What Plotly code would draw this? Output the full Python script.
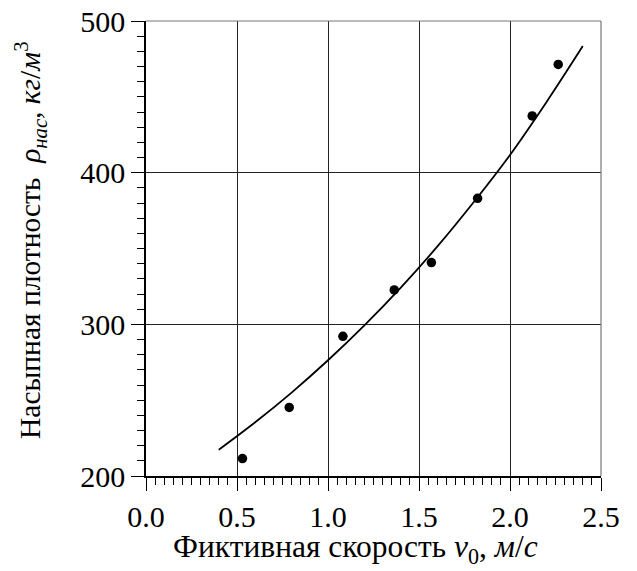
import plotly.graph_objects as go

# measured points
v0 = [0.53, 0.787, 1.082, 1.364, 1.568, 1.822, 2.122, 2.265]
rho = [211.5, 245.2, 292.1, 322.7, 340.7, 383.1, 437.4, 471.4]

# fitted curve
curve_x = [0.40, 0.60, 0.80, 1.00, 1.20, 1.40, 1.60, 1.80, 2.00, 2.20, 2.40]
curve_y = [217.3, 235.4, 255.0, 276.3, 299.3, 324.2, 351.2, 380.5, 411.7, 446.5, 483.5]

x_ticks = [0.0, 0.5, 1.0, 1.5, 2.0, 2.5]
y_ticks = [200, 300, 400, 500]

FONT = "Liberation Serif"
W, H = 637, 571
L, R, T, B = 146, 36, 21, 95

fig = go.Figure()
fig.add_trace(go.Scatter(x=curve_x, y=curve_y, mode="lines",
                         line=dict(color="black", width=1.8, shape="spline"),
                         showlegend=False, hoverinfo="skip"))
fig.add_trace(go.Scatter(x=v0, y=rho, mode="markers",
                         marker=dict(color="black", size=9.5),
                         showlegend=False))

axis_common = dict(showline=True, linecolor="black", linewidth=1.5,
                   ticks="outside", ticklen=13, tickwidth=1.3, tickcolor="black",
                   showgrid=True, gridcolor="#222222", gridwidth=1,
                   zeroline=False, mirror=False, automargin=False,
                   tickfont=dict(family=FONT, size=30, color="black"))

fig.update_xaxes(range=[0, 2.5], tickvals=x_ticks,
                 ticktext=[f"{v:.1f}" for v in x_ticks],
                 minor=dict(dtick=0.05, tick0=0, ticks="outside", ticklen=7,
                            tickwidth=1.2, tickcolor="black", showgrid=False),
                 **axis_common)
fig.update_yaxes(range=[200, 500], tickvals=y_ticks,
                 ticktext=[str(v) for v in y_ticks],
                 ticklabelstandoff=0,
                 minor=dict(dtick=10, tick0=200, ticks="outside", ticklen=7,
                            tickwidth=1.2, tickcolor="black", showgrid=False),
                 **axis_common)

# top / right border
fig.add_shape(type="line", xref="paper", yref="paper", x0=0, x1=1, y0=1, y1=1,
              line=dict(color="#777777", width=1.2))
fig.add_shape(type="line", xref="paper", yref="paper", x0=1, x1=1, y0=0, y1=1,
              line=dict(color="#777777", width=1.2))

ph = H - T - B
pw = W - L - R
fig.add_annotation(text="Насыпная плотность  <i>ρ</i><sub><i>нас</i></sub>, <i>кг</i>/<i>м</i><sup>3</sup>",
                   xref="paper", yref="paper",
                   x=(31 - L) / pw, y=(H - B - 241) / ph,
                   xanchor="center", yanchor="middle", textangle=-90,
                   showarrow=False, font=dict(family=FONT, size=29.5, color="black"))
fig.add_annotation(text="Фиктивная скорость <i>v</i><sub>0</sub>, <i>м</i>/<i>с</i>",
                   xref="paper", yref="paper",
                   x=(355 - L) / pw, y=-(549 - (H - B)) / ph,
                   xanchor="center", yanchor="middle",
                   showarrow=False, font=dict(family=FONT, size=31.5, color="black"))

fig.update_layout(width=W, height=H, margin=dict(l=L, r=R, t=T, b=B, autoexpand=False),
                  paper_bgcolor="white", plot_bgcolor="white",
                  font=dict(family=FONT, color="black"))

fig.write_html("out.html")
